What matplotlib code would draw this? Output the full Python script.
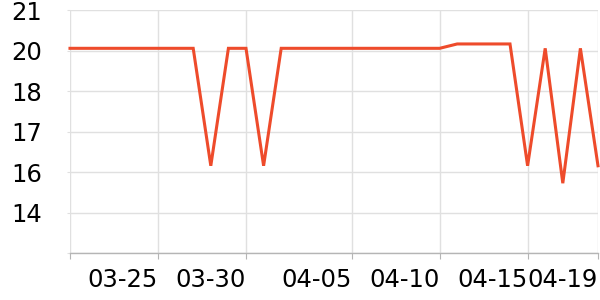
import matplotlib
matplotlib.use("Agg")
import matplotlib.pyplot as plt

# one point per day, 03-20 .. 04-19
dates = ["03-20", "03-21", "03-22", "03-23", "03-24", "03-25", "03-26", "03-27",
         "03-28", "03-29", "03-30", "03-31", "04-01", "04-02", "04-03", "04-04",
         "04-05", "04-06", "04-07", "04-08", "04-09", "04-10", "04-11", "04-12",
         "04-13", "04-14", "04-15", "04-16", "04-17", "04-18", "04-19"]
values = [19.57, 19.57, 19.57, 19.57, 19.57, 19.57, 19.57, 19.57,
          15.8, 19.57, 19.57, 15.8,
          19.57, 19.57, 19.57, 19.57, 19.57, 19.57, 19.57, 19.57, 19.57, 19.57,
          19.71, 19.71, 19.71, 19.71,
          15.8, 19.57, 15.24, 19.57, 15.8]

y_ticks = [13.0, 14.3, 15.6, 16.9, 18.2, 19.5, 20.8]
y_labels = ["", "14", "16", "17", "18", "20", "21"]
x_tick_dates = ["03-20", "03-25", "03-30", "04-05", "04-10", "04-15", "04-19"]
x_labels = ["", "03-25", "03-30", "04-05", "04-10", "04-15", "04-19"]

line_color = "#ee4b2b"
grid_color = "#e0e0e0"

fig = plt.figure(figsize=(6, 3), dpi=100, facecolor="white")
ax = fig.add_axes([70/600, 1 - 253/300, 528/600, 243/300])

xs = list(range(len(dates)))
ax.plot(xs, values, color=line_color, lw=2.2, solid_joinstyle="miter", zorder=3, clip_on=False)

ax.set_xlim(0, len(dates) - 1)
ax.set_ylim(y_ticks[0], y_ticks[-1])

ax.set_yticks(y_ticks)
ax.set_yticklabels(y_labels)
ax.set_xticks([dates.index(d) for d in x_tick_dates])
ax.set_xticklabels(x_labels, ha="right")

ax.grid(True, color=grid_color, lw=1, zorder=0)
for s in ["top", "right", "left"]:
	ax.spines[s].set_visible(False)
ax.spines["bottom"].set_color("#b5b5b5")
ax.spines["bottom"].set_linewidth(1)

ax.tick_params(axis="y", length=2, color=grid_color, pad=18, labelsize=17.5, labelcolor="black")
ax.tick_params(axis="x", length=4, color="#b5b5b5", pad=7, labelsize=17.5, labelcolor="black")

fig.savefig("out.png", dpi=100, facecolor="white")
